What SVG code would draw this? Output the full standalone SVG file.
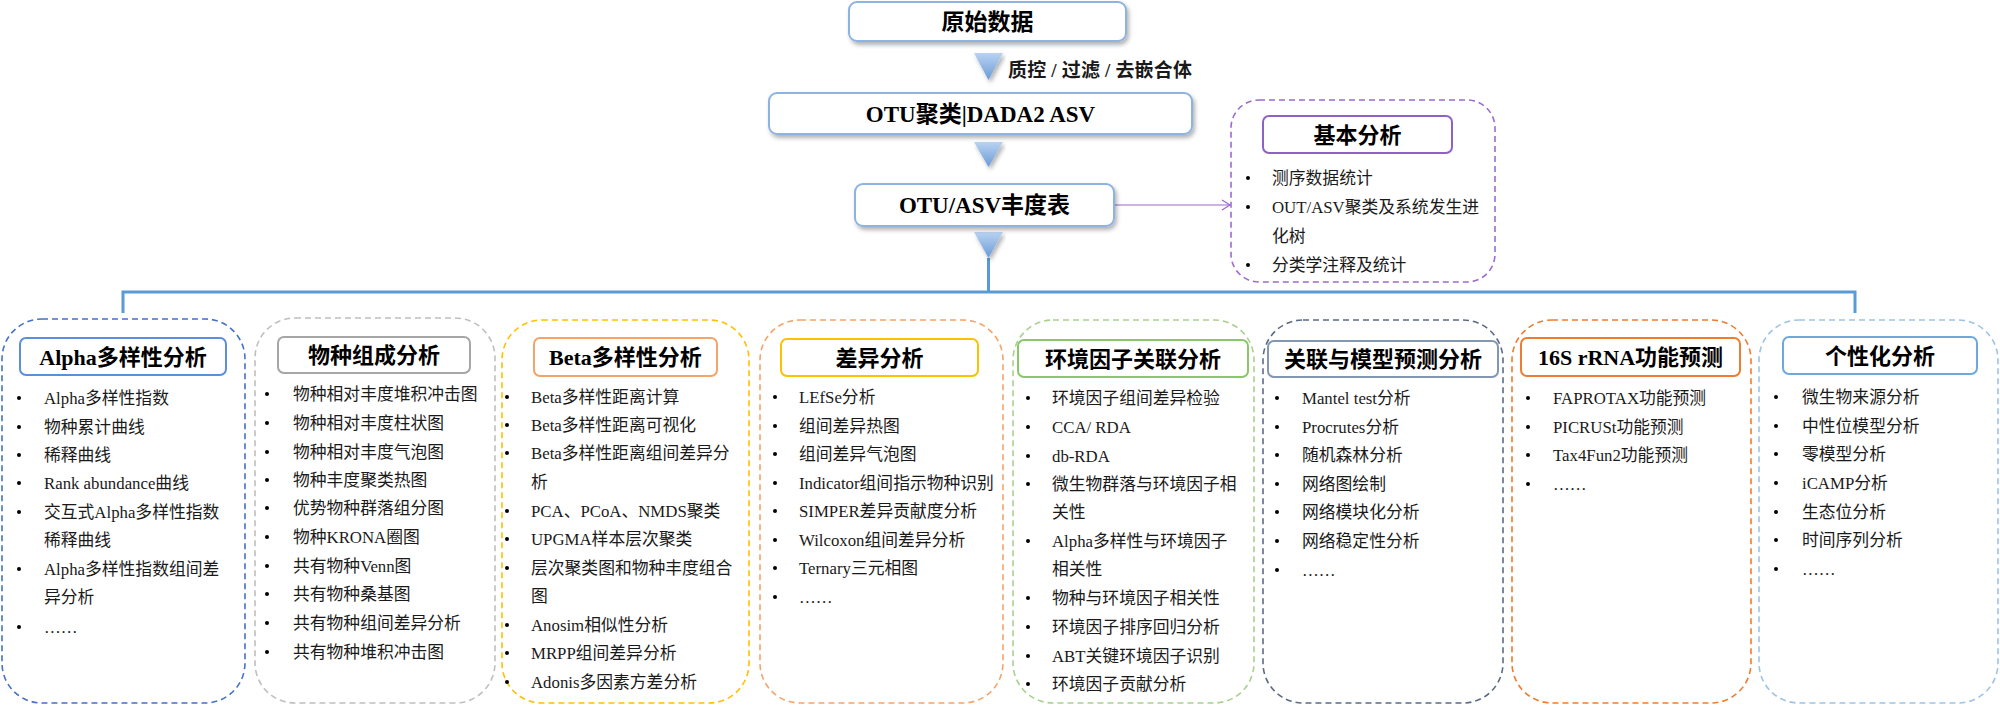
<svg xmlns="http://www.w3.org/2000/svg" width="2000" height="705" viewBox="0 0 2000 705">
<defs>
<style>
text{font-family:"Liberation Serif","Noto Sans CJK SC",serif;fill:#1a1a1a}
.it{font-size:16.8px}
.tt{font-size:22px;font-weight:bold;text-anchor:middle;fill:#000}
.top{font-size:23px;font-weight:bold;text-anchor:middle;fill:#000}
.dash{fill:none;stroke-width:1.6;stroke-dasharray:6 4}
.tb{fill:#fff;stroke-width:2}
.bl{fill:#000}
.topbox{fill:#fff;stroke:#8DB3E2;stroke-width:2}
.tri{fill:url(#tri)}
.conn{fill:none;stroke:#5B9BD5;stroke-width:3}
</style>
<linearGradient id="tri" x1="0" y1="0" x2="0" y2="1"><stop offset="0" stop-color="#B9D3F1"/><stop offset="1" stop-color="#6A9AD6"/></linearGradient>
<filter id="sh" x="-10%" y="-20%" width="120%" height="150%"><feDropShadow dx="2" dy="3" stdDeviation="2" flood-color="#000" flood-opacity="0.3"/></filter>
<marker id="ar" markerWidth="12" markerHeight="12" refX="10" refY="6" orient="auto" markerUnits="userSpaceOnUse"><path d="M2,1 L10,6 L2,11" fill="none" stroke="#9966CC" stroke-width="1.2"/></marker>
</defs>
<rect width="2000" height="705" fill="#fff"/>

<g id="connectors">
<line x1="988.5" y1="258" x2="988.5" y2="292" class="conn"/>
<polyline points="123,313 123,292 1855,292 1855,313" class="conn"/>
<line x1="1114" y1="205" x2="1230" y2="205" stroke="#9966CC" stroke-width="1.2" marker-end="url(#ar)"/>
<polygon class="tri" points="974,53 1003,53 988.5,80" filter="url(#sh)"/>
<polygon class="tri" points="974,142 1003,142 988.5,167" filter="url(#sh)"/>
<polygon class="tri" points="974,232 1003,232 988.5,258" filter="url(#sh)"/>
<text x="1008" y="77" font-size="19" font-weight="bold" fill="#000" textLength="184" lengthAdjust="spacing">质控 / 过滤 / 去嵌合体</text>
</g>

<g id="raw">
<rect class="topbox" x="849" y="2" width="277" height="39" rx="8" filter="url(#sh)"/>
<text class="top" x="987.5" y="29.5">原始数据</text>
</g>
<g id="otu">
<rect class="topbox" x="769" y="93" width="423" height="41" rx="8" filter="url(#sh)"/>
<text class="top" x="980.5" y="121.5">OTU聚类|DADA2 ASV</text>
</g>
<g id="abund">
<rect class="topbox" x="855" y="184" width="259" height="42" rx="8" filter="url(#sh)"/>
<text class="top" x="984.5" y="213">OTU/ASV丰度表</text>
</g>

<g id="basic">
<rect class="dash" x="1231" y="100" width="264" height="182" rx="28" stroke="#9B6BD0"/>
<rect class="tb" x="1263" y="116" width="189" height="37" rx="6" stroke="#8E62C4"/>
<text class="tt" x="1357.5" y="143">基本分析</text>
<circle class="bl" cx="1248" cy="178" r="2"/><circle class="bl" cx="1248" cy="207" r="2"/><circle class="bl" cx="1248" cy="265" r="2"/>
<text class="it" x="1272" y="184">测序数据统计</text>
<text class="it" x="1272" y="213">OUT/ASV聚类及系统发生进</text>
<text class="it" x="1272" y="242">化树</text>
<text class="it" x="1272" y="271">分类学注释及统计</text>
</g>

<g id="alpha">
<rect class="dash" x="2" y="319" width="243" height="384" rx="40" stroke="#4472C4"/>
<rect class="tb" x="20" y="338" width="206" height="37" rx="6" stroke="#5B8FD9"/>
<text class="tt" x="123" y="364.5">Alpha多样性分析</text>
<circle class="bl" cx="19" cy="398" r="2"/><circle class="bl" cx="19" cy="427" r="2"/><circle class="bl" cx="19" cy="455" r="2"/><circle class="bl" cx="19" cy="483" r="2"/><circle class="bl" cx="19" cy="512" r="2"/><circle class="bl" cx="19" cy="569" r="2"/><circle class="bl" cx="19" cy="627" r="2"/>
<text class="it" x="44" y="404">Alpha多样性指数</text>
<text class="it" x="44" y="433">物种累计曲线</text>
<text class="it" x="44" y="461">稀释曲线</text>
<text class="it" x="44" y="489">Rank abundance曲线</text>
<text class="it" x="44" y="518">交互式Alpha多样性指数</text>
<text class="it" x="44" y="546">稀释曲线</text>
<text class="it" x="44" y="575">Alpha多样性指数组间差</text>
<text class="it" x="44" y="603">异分析</text>
<text class="it" x="44" y="633">……</text>
</g>

<g id="composition">
<rect class="dash" x="255" y="318" width="240" height="385" rx="40" stroke="#BFBFBF"/>
<rect class="tb" x="278" y="337" width="192" height="36" rx="6" stroke="#A6A6A6"/>
<text class="tt" x="374" y="363">物种组成分析</text>
<circle class="bl" cx="267" cy="394" r="2"/><circle class="bl" cx="267" cy="423" r="2"/><circle class="bl" cx="267" cy="452" r="2"/><circle class="bl" cx="267" cy="480" r="2"/><circle class="bl" cx="267" cy="508" r="2"/><circle class="bl" cx="267" cy="537" r="2"/><circle class="bl" cx="267" cy="566" r="2"/><circle class="bl" cx="267" cy="594" r="2"/><circle class="bl" cx="267" cy="623" r="2"/><circle class="bl" cx="267" cy="652" r="2"/>
<text class="it" x="293" y="400">物种相对丰度堆积冲击图</text>
<text class="it" x="293" y="429">物种相对丰度柱状图</text>
<text class="it" x="293" y="458">物种相对丰度气泡图</text>
<text class="it" x="293" y="486">物种丰度聚类热图</text>
<text class="it" x="293" y="514">优势物种群落组分图</text>
<text class="it" x="293" y="543">物种KRONA圈图</text>
<text class="it" x="293" y="572">共有物种Venn图</text>
<text class="it" x="293" y="600">共有物种桑基图</text>
<text class="it" x="293" y="629">共有物种组间差异分析</text>
<text class="it" x="293" y="658">共有物种堆积冲击图</text>
</g>

<g id="beta">
<rect class="dash" x="502" y="320" width="247" height="383" rx="40" stroke="#FFC000"/>
<rect class="tb" x="534" y="338" width="183" height="38" rx="6" stroke="#F4A46A"/>
<text class="tt" x="625.5" y="365">Beta多样性分析</text>
<circle class="bl" cx="507" cy="397" r="2"/><circle class="bl" cx="507" cy="425" r="2"/><circle class="bl" cx="507" cy="453" r="2"/><circle class="bl" cx="507" cy="511" r="2"/><circle class="bl" cx="507" cy="539" r="2"/><circle class="bl" cx="507" cy="568" r="2"/><circle class="bl" cx="507" cy="625" r="2"/><circle class="bl" cx="507" cy="653" r="2"/><circle class="bl" cx="507" cy="682" r="2"/>
<text class="it" x="531" y="403">Beta多样性距离计算</text>
<text class="it" x="531" y="431">Beta多样性距离可视化</text>
<text class="it" x="531" y="459">Beta多样性距离组间差异分</text>
<text class="it" x="531" y="488">析</text>
<text class="it" x="531" y="517">PCA、PCoA、NMDS聚类</text>
<text class="it" x="531" y="545">UPGMA样本层次聚类</text>
<text class="it" x="531" y="574">层次聚类图和物种丰度组合</text>
<text class="it" x="531" y="602">图</text>
<text class="it" x="531" y="631">Anosim相似性分析</text>
<text class="it" x="531" y="659">MRPP组间差异分析</text>
<text class="it" x="531" y="688">Adonis多因素方差分析</text>
</g>

<g id="difference">
<rect class="dash" x="760" y="320" width="243" height="383" rx="40" stroke="#F4A46A"/>
<rect class="tb" x="781" y="339" width="197" height="37" rx="6" stroke="#FFC000"/>
<text class="tt" x="879.5" y="365.5">差异分析</text>
<circle class="bl" cx="775" cy="397" r="2"/><circle class="bl" cx="775" cy="426" r="2"/><circle class="bl" cx="775" cy="454" r="2"/><circle class="bl" cx="775" cy="483" r="2"/><circle class="bl" cx="775" cy="511" r="2"/><circle class="bl" cx="775" cy="540" r="2"/><circle class="bl" cx="775" cy="568" r="2"/><circle class="bl" cx="775" cy="597" r="2"/>
<text class="it" x="799" y="403">LEfSe分析</text>
<text class="it" x="799" y="432">组间差异热图</text>
<text class="it" x="799" y="460">组间差异气泡图</text>
<text class="it" x="799" y="489">Indicator组间指示物种识别</text>
<text class="it" x="799" y="517">SIMPER差异贡献度分析</text>
<text class="it" x="799" y="546">Wilcoxon组间差异分析</text>
<text class="it" x="799" y="574">Ternary三元相图</text>
<text class="it" x="799" y="603">……</text>
</g>

<g id="environment">
<rect class="dash" x="1013" y="320" width="241" height="383" rx="40" stroke="#A9D18E"/>
<rect class="tb" x="1018" y="340" width="230" height="37" rx="6" stroke="#8CC66A"/>
<text class="tt" x="1133" y="366.5">环境因子关联分析</text>
<circle class="bl" cx="1028" cy="398" r="2"/><circle class="bl" cx="1028" cy="427" r="2"/><circle class="bl" cx="1028" cy="456" r="2"/><circle class="bl" cx="1028" cy="484" r="2"/><circle class="bl" cx="1028" cy="541" r="2"/><circle class="bl" cx="1028" cy="598" r="2"/><circle class="bl" cx="1028" cy="627" r="2"/><circle class="bl" cx="1028" cy="656" r="2"/><circle class="bl" cx="1028" cy="684" r="2"/>
<text class="it" x="1052" y="404">环境因子组间差异检验</text>
<text class="it" x="1052" y="433">CCA/ RDA</text>
<text class="it" x="1052" y="462">db-RDA</text>
<text class="it" x="1052" y="490">微生物群落与环境因子相</text>
<text class="it" x="1052" y="518">关性</text>
<text class="it" x="1052" y="547">Alpha多样性与环境因子</text>
<text class="it" x="1052" y="575">相关性</text>
<text class="it" x="1052" y="604">物种与环境因子相关性</text>
<text class="it" x="1052" y="633">环境因子排序回归分析</text>
<text class="it" x="1052" y="662">ABT关键环境因子识别</text>
<text class="it" x="1052" y="690">环境因子贡献分析</text>
</g>

<g id="model">
<rect class="dash" x="1263" y="320" width="240" height="383" rx="40" stroke="#5B6B85"/>
<rect class="tb" x="1268" y="341" width="230" height="36" rx="6" stroke="#8497B0"/>
<text class="tt" x="1383" y="367">关联与模型预测分析</text>
<circle class="bl" cx="1277" cy="398" r="2"/><circle class="bl" cx="1277" cy="427" r="2"/><circle class="bl" cx="1277" cy="455" r="2"/><circle class="bl" cx="1277" cy="484" r="2"/><circle class="bl" cx="1277" cy="512" r="2"/><circle class="bl" cx="1277" cy="541" r="2"/><circle class="bl" cx="1277" cy="570" r="2"/>
<text class="it" x="1302" y="404">Mantel test分析</text>
<text class="it" x="1302" y="433">Procrutes分析</text>
<text class="it" x="1302" y="461">随机森林分析</text>
<text class="it" x="1302" y="490">网络图绘制</text>
<text class="it" x="1302" y="518">网络模块化分析</text>
<text class="it" x="1302" y="547">网络稳定性分析</text>
<text class="it" x="1302" y="576">……</text>
</g>

<g id="function16s">
<rect class="dash" x="1512" y="320" width="239" height="383" rx="40" stroke="#ED7D31"/>
<rect class="tb" x="1521" y="338" width="219" height="38" rx="6" stroke="#ED7D31"/>
<text class="tt" x="1630.5" y="365">16S rRNA功能预测</text>
<circle class="bl" cx="1528" cy="398" r="2"/><circle class="bl" cx="1528" cy="427" r="2"/><circle class="bl" cx="1528" cy="455" r="2"/><circle class="bl" cx="1528" cy="484" r="2"/>
<text class="it" x="1553" y="404">FAPROTAX功能预测</text>
<text class="it" x="1553" y="433">PICRUSt功能预测</text>
<text class="it" x="1553" y="461">Tax4Fun2功能预测</text>
<text class="it" x="1553" y="490">……</text>
</g>

<g id="personal">
<rect class="dash" x="1759" y="320" width="239" height="383" rx="40" stroke="#9DC3E6"/>
<rect class="tb" x="1783" y="337" width="194" height="37" rx="6" stroke="#6FA8DC"/>
<text class="tt" x="1880" y="363.5">个性化分析</text>
<circle class="bl" cx="1776" cy="397" r="2"/><circle class="bl" cx="1776" cy="426" r="2"/><circle class="bl" cx="1776" cy="454" r="2"/><circle class="bl" cx="1776" cy="483" r="2"/><circle class="bl" cx="1776" cy="512" r="2"/><circle class="bl" cx="1776" cy="540" r="2"/><circle class="bl" cx="1776" cy="569" r="2"/>
<text class="it" x="1802" y="403">微生物来源分析</text>
<text class="it" x="1802" y="432">中性位模型分析</text>
<text class="it" x="1802" y="460">零模型分析</text>
<text class="it" x="1802" y="489">iCAMP分析</text>
<text class="it" x="1802" y="518">生态位分析</text>
<text class="it" x="1802" y="546">时间序列分析</text>
<text class="it" x="1802" y="575">……</text>
</g>
</svg>
